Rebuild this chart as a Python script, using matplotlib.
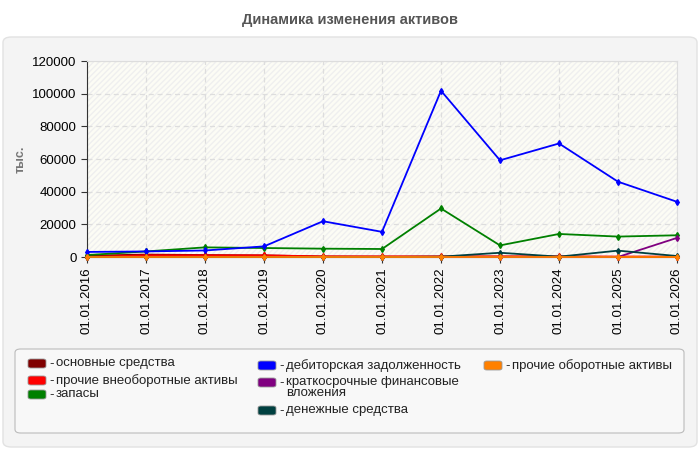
import matplotlib
matplotlib.use("Agg")
import matplotlib.pyplot as plt
from matplotlib.patches import FancyBboxPatch, Rectangle

plt.rcParams['font.family'] = ['Liberation Sans', 'DejaVu Sans']

# данные (тыс.)
dates = ["01.01.2016", "01.01.2017", "01.01.2018", "01.01.2019", "01.01.2020", "01.01.2021",
         "01.01.2022", "01.01.2023", "01.01.2024", "01.01.2025", "01.01.2026"]
osnovnye = [800, 1500, 1200, 1000, 300, 200, 200, 200, 200, 0, 0]
prochie_vneob = [0, 1000, 1000, 1000, 400, 400, 400, 400, 400, 300, 300]
zapasy = [1200, 3400, 5900, 5500, 5100, 4900, 29700, 7100, 14100, 12500, 13300]
debitorka = [3100, 3400, 4000, 6500, 21900, 15400, 101800, 59200, 69500, 46100, 33800]
kratkosroch = [0, 0, 0, 0, 0, 0, 0, 0, 0, 0, 11700]
denezhnye = [0, 0, 0, 0, 0, 0, 200, 2600, 200, 3900, 600]
prochie_ob = [100, 100, 100, 100, 100, 100, 100, 100, 100, 100, 100]

series = [
    ("основные средства", osnovnye, "#800000"),
    ("прочие внеоборотные активы", prochie_vneob, "#ff0000"),
    ("запасы", zapasy, "#008000"),
    ("дебиторская задолженность", debitorka, "#0000ff"),
    ("краткосрочные финансовые\nвложения", kratkosroch, "#800080"),
    ("денежные средства", denezhnye, "#004040"),
    ("прочие оборотные активы", prochie_ob, "#ff8000"),
]

W, H = 700, 450
fig = plt.figure(figsize=(7, 4.5), dpi=100)
fig.patch.set_facecolor("white")

def fx(x):
    return x / W

def fy(y):
    return 1 - y / H

# серая панель
fig.patches.append(FancyBboxPatch((fx(3), fy(447)), fx(694), (447 - 37) / H,
                                  boxstyle="round,pad=0,rounding_size=0.012",
                                  transform=fig.transFigure, facecolor="#f4f4f4",
                                  edgecolor="#e2e2e2", lw=1, zorder=-2))
fig.text(0.5, fy(20), "Динамика изменения активов", ha="center", va="center",
         fontsize=10.5, fontweight="bold", color="#555555")

ax = fig.add_axes([fx(87), fy(257), fx(677 - 87), (257 - 61) / H])
ax.set_zorder(5)
ax.set_facecolor("#fcfcf5")
ax.add_patch(Rectangle((0, 0), 1, 1, transform=ax.transAxes, facecolor="none",
                       edgecolor="#efefef", hatch="//////", lw=0, zorder=0))

x = list(range(len(dates)))
for label, vals, color in series:
    ax.plot(x, vals, color=color, lw=1.3, marker="d", ms=3, zorder=3,
            clip_on=False)

ax.set_xlim(0, len(dates) - 1)
ax.set_ylim(0, 120000)
ax.set_yticks(range(0, 120001, 20000))
ax.set_xticks(x)
ax.set_xticklabels(dates, rotation=90, fontsize=9.5)
ax.tick_params(axis="y", labelsize=9.5, length=4, color="#333333")
ax.tick_params(axis="x", length=4, color="#333333")
ax.grid(True, color="#dddddd", ls=(0, (4, 3)), lw=0.9)
ax.set_axisbelow(True)
for s in ["top", "right"]:
    ax.spines[s].set_color("#dddddd")
for s in ["left", "bottom"]:
    ax.spines[s].set_color("#333333")
ax.set_ylabel("тыс.", fontsize=9, fontweight="bold", color="#777777")
ax.yaxis.set_label_coords((27 - 87) / 590, 0.5)

# легенда
fig.patches.append(FancyBboxPatch((fx(15), fy(433)), fx(669), (433 - 349) / H,
                                  boxstyle="round,pad=0,rounding_size=0.008",
                                  transform=fig.transFigure, facecolor="#f8f8f8",
                                  edgecolor="#bbbbbb", lw=0.8, zorder=1))
leg_pos = [(28, 364), (28, 381), (28, 395), (258, 366), (258, 383), (258, 411), (484, 366)]
for (label, vals, color), (lx, ly) in zip(series, leg_pos):
    fig.patches.append(FancyBboxPatch((fx(lx), fy(ly + 4)), fx(18), 9 / H,
                                      boxstyle="round,pad=0,rounding_size=0.004",
                                      transform=fig.transFigure, facecolor=color,
                                      edgecolor="#999999", lw=0.6, zorder=2))
    fig.text(fx(lx + 21), fy(ly), "-", ha="left", va="center", fontsize=9.5, color="#222222")
    fig.text(fx(lx + 28), fy(ly - 7), label, ha="left", va="top", fontsize=9.5,
             color="#222222", linespacing=0.9)

fig.savefig("out.png", dpi=100)
